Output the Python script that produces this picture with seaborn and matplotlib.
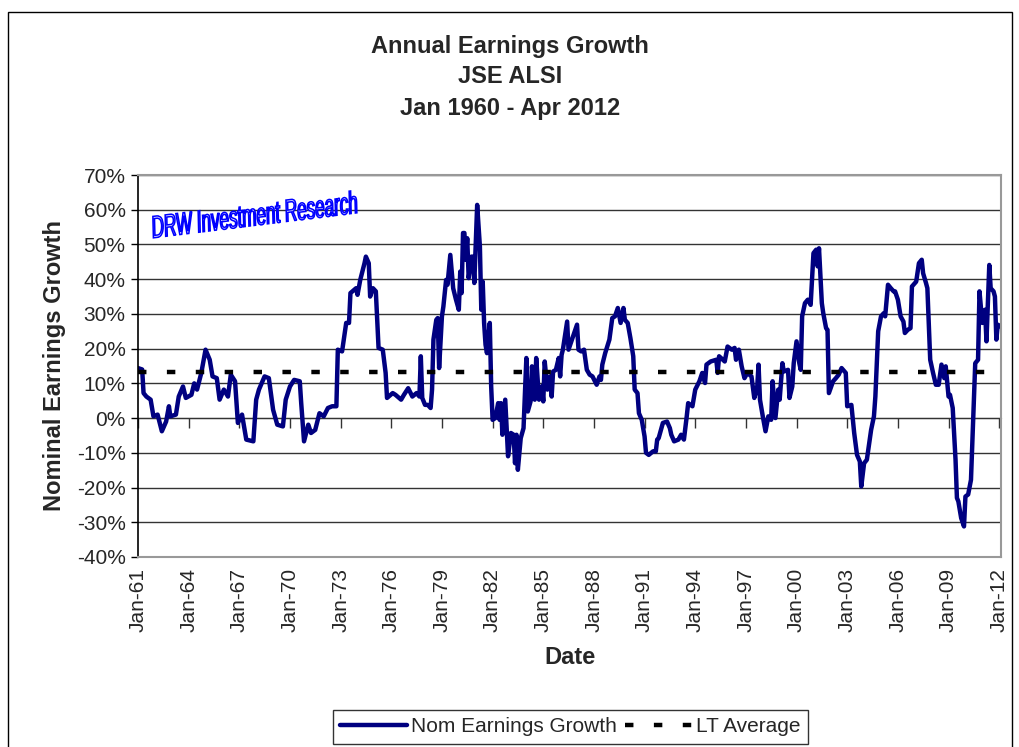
import matplotlib
matplotlib.use("Agg")
import matplotlib.pyplot as plt
import matplotlib.dates as mdates
from matplotlib.patches import Rectangle, PathPatch
from matplotlib.textpath import TextPath
from matplotlib.font_manager import FontProperties
from matplotlib.transforms import Affine2D
import seaborn as sns
import pandas as pd

# monthly reading of the chart (approximate)
months = [
    "1961-01", "1961-04", "1961-05", "1961-07", "1961-10", "1961-12", "1962-03", "1962-06",
    "1962-09", "1962-11", "1962-12", "1963-04", "1963-06", "1963-09", "1963-11", "1964-03",
    "1964-05", "1964-07", "1964-10", "1965-01", "1965-04", "1965-06", "1965-09", "1965-11",
    "1966-02", "1966-05", "1966-07", "1966-10", "1966-12", "1967-03", "1967-06", "1967-11",
    "1968-01", "1968-03", "1968-07", "1968-10", "1969-01", "1969-04", "1969-08", "1969-10",
    "1970-01", "1970-04", "1970-08", "1970-09", "1970-11", "1971-02", "1971-04", "1971-07",
    "1971-10", "1972-01", "1972-04", "1972-07", "1972-10", "1972-11", "1973-02", "1973-05",
    "1973-07", "1973-08", "1973-12", "1974-01", "1974-03", "1974-06", "1974-07", "1974-09",
    "1974-10", "1974-12", "1975-02", "1975-04", "1975-07", "1975-09", "1975-10", "1976-02",
    "1976-04", "1976-08", "1976-10", "1977-01", "1977-04", "1977-07", "1977-09", "1977-10",
    "1977-11", "1978-01", "1978-03", "1978-05", "1978-06", "1978-07", "1978-09", "1978-10",
    "1978-11", "1979-01", "1979-02", "1979-04", "1979-05", "1979-07", "1979-09", "1979-11",
    "1980-01", "1980-02", "1980-03", "1980-04", "1980-05", "1980-06", "1980-07", "1980-08",
    "1980-10", "1980-11", "1980-12", "1981-01", "1981-02", "1981-04", "1981-05", "1981-06",
    "1981-07", "1981-08", "1981-09", "1981-11", "1981-12", "1982-01", "1982-03", "1982-05",
    "1982-06", "1982-07", "1982-08", "1982-10", "1982-12", "1983-02", "1983-04", "1983-05",
    "1983-06", "1983-07", "1983-09", "1983-11", "1984-01", "1984-02", "1984-04", "1984-05",
    "1984-07", "1984-08", "1984-10", "1984-12", "1985-01", "1985-02", "1985-04", "1985-06",
    "1985-07", "1985-08", "1985-10", "1985-12", "1986-01", "1986-02", "1986-03", "1986-06",
    "1986-07", "1986-09", "1986-11", "1987-01", "1987-02", "1987-04", "1987-06", "1987-08",
    "1987-10", "1987-12", "1988-03", "1988-05", "1988-06", "1988-07", "1988-09", "1988-12",
    "1989-02", "1989-04", "1989-06", "1989-08", "1989-10", "1989-11", "1990-01", "1990-03",
    "1990-05", "1990-06", "1990-08", "1990-09", "1990-11", "1991-01", "1991-02", "1991-04",
    "1991-07", "1991-09", "1991-10", "1991-11", "1992-02", "1992-05", "1992-07", "1992-08",
    "1992-10", "1993-01", "1993-03", "1993-05", "1993-07", "1993-08", "1993-11", "1994-01",
    "1994-04", "1994-06", "1994-08", "1994-09", "1994-12", "1995-04", "1995-05", "1995-06",
    "1995-10", "1995-12", "1996-03", "1996-05", "1996-06", "1996-08", "1996-10", "1996-12",
    "1997-02", "1997-05", "1997-07", "1997-09", "1997-10", "1997-11", "1998-01", "1998-03",
    "1998-05", "1998-07", "1998-08", "1998-10", "1998-12", "1999-01", "1999-03", "1999-04",
    "1999-07", "1999-08", "1999-10", "1999-11", "2000-01", "2000-03", "2000-04", "2000-05",
    "2000-07", "2000-09", "2000-11", "2001-01", "2001-03", "2001-04", "2001-05", "2001-07",
    "2001-08", "2001-10", "2001-11", "2001-12", "2002-03", "2002-05", "2002-07", "2002-09",
    "2002-12", "2003-01", "2003-04", "2003-06", "2003-08", "2003-10", "2003-11", "2004-01",
    "2004-03", "2004-06", "2004-08", "2004-09", "2004-11", "2005-01", "2005-03", "2005-04",
    "2005-06", "2005-08", "2005-10", "2005-11", "2006-01", "2006-03", "2006-05", "2006-06",
    "2006-08", "2006-10", "2006-11", "2007-02", "2007-04", "2007-06", "2007-07", "2007-09",
    "2007-10", "2007-12", "2008-02", "2008-04", "2008-06", "2008-08", "2008-10", "2008-11",
    "2009-01", "2009-02", "2009-04", "2009-06", "2009-07", "2009-08", "2009-10", "2009-12",
    "2010-01", "2010-03", "2010-05", "2010-06", "2010-07", "2010-08", "2010-10", "2010-11",
    "2011-01", "2011-03", "2011-04", "2011-06", "2011-07", "2011-09", "2011-10", "2011-11",
    "2011-12", "2012-02",
]

growth = [
    14.4, 14.0, 7.2, 6.2, 5.3, 0.5, 1.0, -3.8,
    -1.0, 3.4, 0.5, 1.0, 6.2, 9.1, 5.8, 6.7,
    10.0, 8.2, 13.0, 19.7, 16.8, 12.0, 11.5, 5.3,
    8.2, 6.2, 12.5, 10.6, -1.4, 1.0, -6.2, -6.7,
    5.3, 8.2, 12.0, 11.5, 2.4, -1.9, -2.4, 5.3,
    9.1, 11.0, 10.6, 4.3, -6.7, -1.9, -4.3, -3.4,
    1.4, 0.5, 2.9, 3.4, 3.4, 19.7, 19.2, 27.4,
    27.4, 36.0, 37.4, 35.5, 39.8, 44.6, 46.5, 44.6,
    35.0, 37.4, 36.5, 20.2, 19.7, 13.0, 5.8, 7.2,
    6.7, 5.3, 6.7, 8.6, 6.2, 7.2, 6.2, 17.8,
    5.8, 3.8, 3.8, 2.9, 8.2, 22.6, 28.3, 28.8,
    14.4, 29.3, 32.1, 39.8, 38.4, 47.0, 37.4, 34.1,
    31.2, 42.2, 36.0, 53.3, 53.3, 45.6, 51.8, 40.3,
    46.5, 46.5, 38.9, 50.4, 61.4, 49.4, 31.2, 39.3,
    27.4, 21.1, 18.7, 27.4, 9.1, -0.5, 0.0, 4.3,
    -0.5, 4.3, -4.8, 5.3, -11.0, -4.3, -4.8, -13.0,
    -4.8, -14.9, -5.8, -2.9, 17.3, 1.9, 4.8, 14.9,
    5.3, 17.3, 5.3, 9.1, 4.8, 16.3, 8.2, 12.0,
    6.2, 13.4, 13.9, 17.3, 12.0, 18.2, 19.7, 27.8,
    19.7, 22.1, 24.5, 26.9, 19.7, 19.2, 19.7, 13.9,
    12.5, 12.0, 9.6, 12.0, 11.0, 15.4, 18.7, 22.6,
    28.8, 29.3, 31.7, 27.4, 31.7, 28.3, 27.4, 23.0,
    17.8, 8.2, 7.2, 1.4, -0.5, -5.3, -10.0, -10.6,
    -9.6, -9.6, -6.2, -5.8, -1.4, -1.0, -2.9, -4.8,
    -6.7, -6.2, -4.8, -6.2, 0.5, 4.3, 3.4, 8.2,
    10.6, 13.0, 10.1, 15.4, 16.3, 16.8, 13.0, 17.8,
    16.3, 20.6, 19.7, 20.2, 16.8, 19.7, 14.9, 11.5,
    13.0, 12.0, 5.8, 8.6, 15.4, 5.3, 0.5, -3.8,
    0.5, -0.5, 10.6, 0.0, 8.2, 5.3, 15.8, 13.4,
    13.9, 5.8, 9.1, 15.8, 22.1, 15.8, 13.9, 29.3,
    33.1, 34.1, 32.6, 47.5, 48.5, 43.7, 48.9, 33.1,
    30.2, 25.9, 25.4, 7.2, 10.6, 11.5, 12.5, 14.4,
    13.0, 3.4, 3.8, -4.3, -10.6, -12.5, -19.7, -13.0,
    -12.0, -3.4, 0.5, 6.2, 25.0, 29.3, 30.2, 29.3,
    38.4, 37.4, 36.5, 36.5, 34.1, 29.3, 27.8, 24.5,
    25.4, 25.9, 37.9, 39.3, 44.6, 45.6, 41.7, 38.9,
    37.4, 16.8, 13.0, 9.6, 9.6, 15.4, 11.5, 14.9,
    6.2, 6.7, 2.9, -12.0, -23.0, -24.0, -28.8, -31.2,
    -22.6, -22.0, -17.8, -6.2, 5.3, 15.8, 16.8, 36.5,
    27.4, 31.2, 22.1, 44.1, 37.4, 36.5, 35.0, 22.6,
    26.9, 26.4,
]

lt_average = 13.3
tick_years = list(range(1961, 2013, 3))

df = pd.DataFrame({"date": pd.to_datetime(months), "growth": growth})
df["lt"] = lt_average

sns.set_style("white")
plt.rcParams["font.family"] = ["Liberation Sans", "DejaVu Sans"]

fig = plt.figure(figsize=(10.2, 7.47), dpi=100)
ax = fig.add_axes([0.1353, 0.2544, 0.8461, 0.5113])

sns.lineplot(data=df, x="date", y="growth", ax=ax, color="#000080", lw=3.2,
             label="Nom Earnings Growth")
sns.lineplot(data=df, x="date", y="lt", ax=ax, color="black", lw=3.2,
             linestyle=(0, (1.9, 4.6)), label="LT Average")

ymin, ymax = -40, 70
ax.set_ylim(ymin, ymax)
ax.set_xlim(pd.Timestamp("1961-01-01"), pd.Timestamp("2012-02-10"))
ax.set_yticks(range(ymin, ymax + 1, 10))
ax.set_yticklabels([f"{v}%" for v in range(ymin, ymax + 1, 10)], fontsize=15)
ax.yaxis.grid(True, color="#333333", lw=1)
ax.tick_params(axis="y", left=True, length=5, width=1, color="black", pad=4)

tick_dates = [pd.Timestamp(f"{y}-01-01") for y in tick_years]
ax.set_xticks(tick_dates)
ax.set_xticklabels([d.strftime("Jan-%y") for d in tick_dates], rotation=90, fontsize=15)
ax.tick_params(axis="x", bottom=True, length=0, pad=8)

# axis line with tick marks at 0%
sec = ax.secondary_xaxis((0 - ymin) / (ymax - ymin))
sec.set_xticks(mdates.date2num(tick_dates))
sec.set_xticklabels([])
sec.tick_params(axis="x", direction="out", length=7, width=1, color="#333333")
sec.spines["bottom"].set_color("#333333")

for s in ["top", "right", "bottom"]:
    ax.spines[s].set_color("#999999")
    ax.spines[s].set_linewidth(1.5)
ax.spines["left"].set_color("black")
ax.spines["left"].set_linewidth(1.2)

ax.set_xlabel("Date", fontsize=17, fontweight="bold", labelpad=10)
ax.set_ylabel("Nominal Earnings Growth", fontsize=17, fontweight="bold", labelpad=8)

fig.text(0.5, 0.938, "Annual Earnings Growth", ha="center", va="center",
         fontsize=17, fontweight="bold")
fig.text(0.5, 0.898, "JSE ALSI", ha="center", va="center", fontsize=17, fontweight="bold")
fig.text(0.5, 0.855, "Jan 1960 - Apr 2012", ha="center", va="center",
         fontsize=17, fontweight="bold")

# condensed watermark (pixel coordinates)
wm = TextPath((0, 0), "DRW Investment Research", size=31,
              prop=FontProperties(family="Liberation Sans"))
wm_w = wm.get_extents().width
wm_tf = Affine2D().skew_deg(10, 0).scale(205 / wm_w, 1.0).rotate_deg(7).translate(152, 747 - 238)
fig.patches.append(PathPatch(wm, transform=wm_tf, facecolor="#eeeeff",
                             edgecolor="#0000ff", lw=1.1))

leg = ax.legend(loc="center", bbox_to_anchor=(0.559, 0.027), bbox_transform=fig.transFigure,
                ncol=2, fontsize=15, frameon=True, fancybox=False, handlelength=3.2,
                columnspacing=0.4, handletextpad=0.2, borderpad=0.35)
leg.get_frame().set_edgecolor("black")
leg.get_frame().set_linewidth(1)

fig.patches.append(Rectangle((0.008, -0.01), 0.984, 0.994, transform=fig.transFigure,
                             fill=False, edgecolor="black", lw=1))

fig.savefig("out.png", dpi=100)
